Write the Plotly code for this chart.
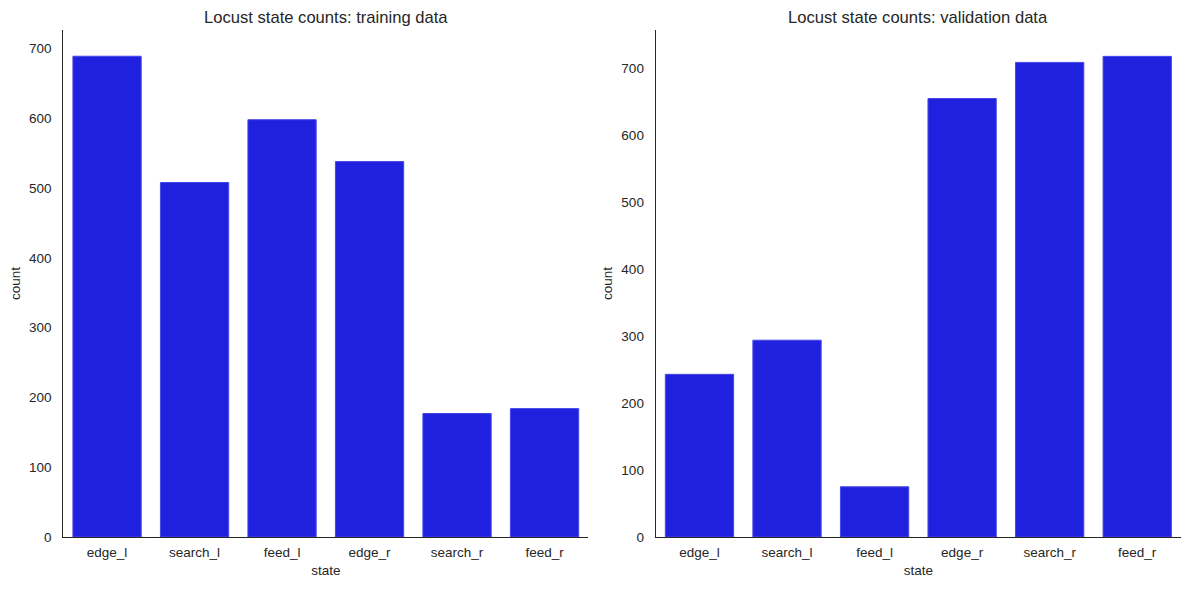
import plotly.graph_objects as go

states = ["edge_l", "search_l", "feed_l", "edge_r", "search_r", "feed_r"]
train_counts = [689, 508, 598, 538, 177, 184]
valid_counts = [243, 294, 75, 655, 709, 718]
y_ticks = [0, 100, 200, 300, 400, 500, 600, 700]

W, H = 1189, 590
FONT = "Liberation Sans, Arial, sans-serif"
TXT = "#262626"
BAR = "#2020DF"
EDGE = "#4646E8"

def px_x(v):
    return v / W

def px_y(v):
    return 1 - v / H

fig = go.Figure()
fig.add_trace(go.Bar(x=states, y=train_counts, xaxis="x", yaxis="y",
                     marker=dict(color=BAR, line=dict(color=EDGE, width=1)),
                     width=0.78, showlegend=False))
fig.add_trace(go.Bar(x=states, y=valid_counts, xaxis="x2", yaxis="y2",
                     marker=dict(color=BAR, line=dict(color=EDGE, width=1)),
                     width=0.78, showlegend=False))

ax_common = dict(showgrid=False, zeroline=False, showline=True, linecolor=TXT,
                 linewidth=1.2, ticks="", automargin=False,
                 tickfont=dict(family=FONT, size=13.5, color=TXT),
                 title_font=dict(family=FONT, size=13.5, color=TXT))

top, bottom = 30, 537
d1 = [px_x(63.3), px_x(588.3)]
d2 = [px_x(655.7), px_x(1181)]
dy = [px_y(bottom), px_y(top)]

fig.update_layout(
    width=W, height=H,
    margin=dict(l=0, r=0, t=0, b=0),
    paper_bgcolor="white", plot_bgcolor="white",
    font=dict(family=FONT, color=TXT),
    xaxis=dict(domain=d1, anchor="y", range=[-0.5, 5.5], type="category",
               title=dict(text="state", standoff=6), ticklabelstandoff=3, **ax_common),
    yaxis=dict(domain=dy, anchor="x", range=[0, 726.6], tickvals=y_ticks,
               title=dict(text="count", standoff=5), ticklabelstandoff=8, **ax_common),
    xaxis2=dict(domain=d2, anchor="y2", range=[-0.5, 5.5], type="category",
                title=dict(text="state", standoff=6), ticklabelstandoff=3, **ax_common),
    yaxis2=dict(domain=dy, anchor="x2", range=[0, 757.4], tickvals=y_ticks,
                title=dict(text="count", standoff=5), ticklabelstandoff=8, **ax_common),
    annotations=[
        dict(text="Locust state counts: training data", x=(d1[0] + d1[1]) / 2, y=px_y(top),
             xref="paper", yref="paper", xanchor="center", yanchor="bottom", yshift=1,
             showarrow=False, font=dict(family=FONT, size=16.6, color=TXT)),
        dict(text="Locust state counts: validation data", x=(d2[0] + d2[1]) / 2, y=px_y(top),
             xref="paper", yref="paper", xanchor="center", yanchor="bottom", yshift=1,
             showarrow=False, font=dict(family=FONT, size=16.6, color=TXT)),
    ],
)

fig.write_html("out.html")
